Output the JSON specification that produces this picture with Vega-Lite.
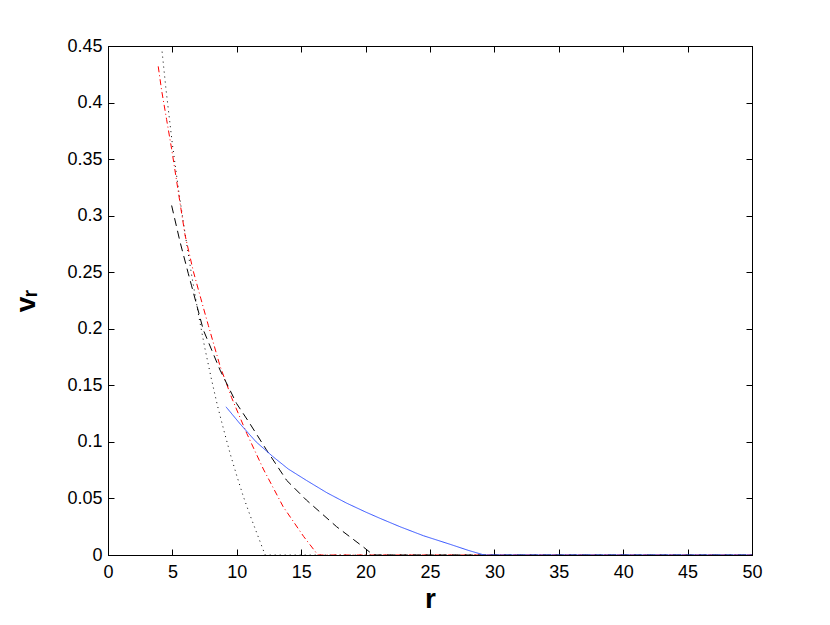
{
  "$schema": "https://vega.github.io/schema/vega-lite/v6.json",
  "width": 644,
  "height": 509,
  "autosize": {"type": "none"},
  "padding": {"left": 108, "top": 46, "right": 78, "bottom": 70},
  "background": "white",
  "config": {
    "view": {"stroke": "#000000", "strokeWidth": 1},
    "font": "Liberation Sans",
    "axis": {
      "domainColor": "#000000",
      "tickColor": "#000000",
      "labelColor": "#000000",
      "titleColor": "#000000",
      "labelFont": "Liberation Sans",
      "labelFontSize": 18,
      "grid": false,
      "tickSize": -6,
      "labelFlush": false,
      "labelOverlap": false
    }
  },
  "data": {
    "values": [
      {"s": "dotted", "r": 4.2, "v": 0.445},
      {"s": "dotted", "r": 4.5, "v": 0.412},
      {"s": "dotted", "r": 5.0, "v": 0.363},
      {"s": "dotted", "r": 5.5, "v": 0.321},
      {"s": "dotted", "r": 6.0, "v": 0.283},
      {"s": "dotted", "r": 6.5, "v": 0.247},
      {"s": "dotted", "r": 7.0, "v": 0.214},
      {"s": "dotted", "r": 7.5, "v": 0.184},
      {"s": "dotted", "r": 8.0, "v": 0.157},
      {"s": "dotted", "r": 8.5, "v": 0.132},
      {"s": "dotted", "r": 9.0, "v": 0.110},
      {"s": "dotted", "r": 9.5, "v": 0.089},
      {"s": "dotted", "r": 10.0, "v": 0.070},
      {"s": "dotted", "r": 10.5, "v": 0.052},
      {"s": "dotted", "r": 11.0, "v": 0.036},
      {"s": "dotted", "r": 11.5, "v": 0.021},
      {"s": "dotted", "r": 12.0, "v": 0.006},
      {"s": "dotted", "r": 12.2, "v": 0},
      {"s": "dotted", "r": 50, "v": 0},
      {"s": "dashdot", "r": 3.9, "v": 0.432},
      {"s": "dashdot", "r": 4.16, "v": 0.411},
      {"s": "dashdot", "r": 4.55, "v": 0.385},
      {"s": "dashdot", "r": 4.94, "v": 0.359},
      {"s": "dashdot", "r": 5.46, "v": 0.321},
      {"s": "dashdot", "r": 5.98, "v": 0.283},
      {"s": "dashdot", "r": 6.62, "v": 0.251},
      {"s": "dashdot", "r": 7.2, "v": 0.227},
      {"s": "dashdot", "r": 7.79, "v": 0.203},
      {"s": "dashdot", "r": 8.7, "v": 0.167},
      {"s": "dashdot", "r": 9.6, "v": 0.139},
      {"s": "dashdot", "r": 10.77, "v": 0.1076},
      {"s": "dashdot", "r": 12.06, "v": 0.076},
      {"s": "dashdot", "r": 13.6, "v": 0.0427},
      {"s": "dashdot", "r": 15.2, "v": 0.0162},
      {"s": "dashdot", "r": 16.3, "v": 0},
      {"s": "dashdot", "r": 50, "v": 0},
      {"s": "dashed", "r": 4.94, "v": 0.309},
      {"s": "dashed", "r": 5.59, "v": 0.277},
      {"s": "dashed", "r": 6.23, "v": 0.249},
      {"s": "dashed", "r": 6.49, "v": 0.238},
      {"s": "dashed", "r": 7.4, "v": 0.199},
      {"s": "dashed", "r": 8.7, "v": 0.1635},
      {"s": "dashed", "r": 9.98, "v": 0.134},
      {"s": "dashed", "r": 11.0, "v": 0.1164},
      {"s": "dashed", "r": 12.3, "v": 0.093},
      {"s": "dashed", "r": 13.87, "v": 0.066},
      {"s": "dashed", "r": 15.4, "v": 0.0486},
      {"s": "dashed", "r": 17.75, "v": 0.025},
      {"s": "dashed", "r": 19.8, "v": 0.0073},
      {"s": "dashed", "r": 20.6, "v": 0},
      {"s": "dashed", "r": 50, "v": 0},
      {"s": "solid", "r": 9.16, "v": 0.131},
      {"s": "solid", "r": 10.25, "v": 0.116},
      {"s": "solid", "r": 11.5, "v": 0.100},
      {"s": "solid", "r": 12.8, "v": 0.087},
      {"s": "solid", "r": 14.0, "v": 0.076},
      {"s": "solid", "r": 15.4, "v": 0.066},
      {"s": "solid", "r": 17.0, "v": 0.055},
      {"s": "solid", "r": 18.5, "v": 0.046},
      {"s": "solid", "r": 20.0, "v": 0.038},
      {"s": "solid", "r": 21.1, "v": 0.0325},
      {"s": "solid", "r": 22.67, "v": 0.025},
      {"s": "solid", "r": 24.5, "v": 0.017},
      {"s": "solid", "r": 26.55, "v": 0.0095},
      {"s": "solid", "r": 28.0, "v": 0.004},
      {"s": "solid", "r": 29.2, "v": 0},
      {"s": "solid", "r": 50, "v": 0}
    ]
  },
  "layer": [
    {
      "mark": {"type": "line", "strokeWidth": 1, "clip": true},
      "encoding": {
        "x": {
          "field": "r", "type": "quantitative",
          "scale": {"domain": [0, 50], "nice": false, "zero": false},
          "axis": {
            "orient": "bottom",
            "values": [0, 5, 10, 15, 20, 25, 30, 35, 40, 45, 50],
            "format": "~g",
            "labelFontSize": 18,
            "labelPadding": 14,
            "title": "r",
            "titleFont": "Liberation Sans",
            "titleFontSize": 28,
            "titleFontWeight": "bold",
            "titlePadding": 4
          }
        },
        "y": {
          "field": "v", "type": "quantitative",
          "scale": {"domain": [0, 0.45], "nice": false, "zero": false},
          "axis": {
            "orient": "left",
            "values": [0, 0.05, 0.1, 0.15, 0.2, 0.25, 0.3, 0.35, 0.4, 0.45],
            "format": "~g",
            "labelFontSize": 18,
            "labelPadding": 12,
            "title": "vᵣ",
            "titleFont": "Liberation Sans",
            "titleFontSize": 28,
            "titleFontWeight": "bold",
            "titlePadding": 26
          }
        },
        "color": {
          "field": "s", "type": "nominal", "legend": null,
          "scale": {"domain": ["dotted", "dashdot", "dashed", "solid"], "range": ["#000000", "#ff0000", "#000000", "#3050ff"]}
        },
        "strokeDash": {
          "field": "s", "type": "nominal", "legend": null,
          "scale": {"domain": ["dotted", "dashdot", "dashed", "solid"], "range": [[1, 4], [6, 3, 1, 3], [8, 5], [1, 0]]}
        }
      }
    },
    {
      "mark": {"type": "line", "opacity": 0},
      "encoding": {
        "x": {
          "field": "r", "type": "quantitative",
          "scale": {"domain": [0, 50], "nice": false, "zero": false},
          "axis": {"orient": "top", "values": [0, 5, 10, 15, 20, 25, 30, 35, 40, 45, 50], "labels": false, "title": null}
        },
        "y": {
          "field": "v", "type": "quantitative",
          "scale": {"domain": [0, 0.45], "nice": false, "zero": false},
          "axis": {"orient": "right", "values": [0, 0.05, 0.1, 0.15, 0.2, 0.25, 0.3, 0.35, 0.4, 0.45], "labels": false, "title": null}
        },
        "detail": {"field": "s", "type": "nominal"}
      }
    }
  ],
  "resolve": {"axis": {"x": "independent", "y": "independent"}}
}
